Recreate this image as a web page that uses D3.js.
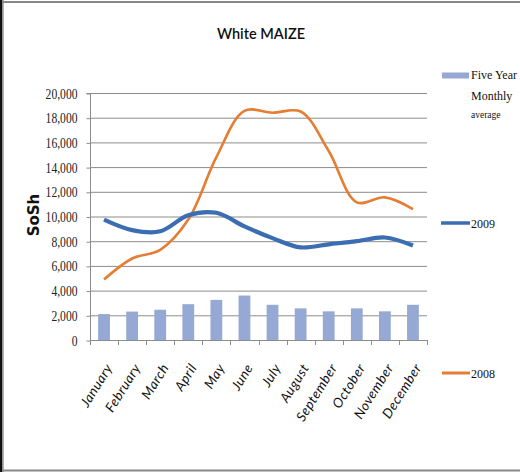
<!DOCTYPE html>
<html><head><meta charset="utf-8">
<script src="https://cdn.jsdelivr.net/npm/d3@7"></script>
<style>html,body{margin:0;padding:0;background:#fff;}svg{display:block;}</style>
</head><body>
<svg id="c" width="520" height="472"></svg>
<script>
const months = ["January","February","March","April","May","June","July","August","September","October","November","December"];
const fiveYearAvg = [2100, 2300, 2450, 2900, 3250, 3600, 2850, 2560, 2320, 2560, 2320, 2850];
const y2009 = [9750, 8900, 8800, 10100, 10300, 9200, 8250, 7500, 7750, 8000, 8300, 7650];
const y2008 = [4900, 6600, 7300, 9750, 14800, 18550, 18400, 18500, 15300, 11150, 11550, 10600];
const yTicks = [0, 2000, 4000, 6000, 8000, 10000, 12000, 14000, 16000, 18000, 20000];

const svg = d3.select("#c");
const L = 90, R = 427, T = 93, B = 340;
const x = d3.scaleBand().domain(months).range([L, R]).paddingInner(0.58).paddingOuter(0.29);
const xc = d3.scalePoint().domain(months).range([L, R]).padding(0.5);
const y = d3.scaleLinear().domain([0, 20000]).range([B, T]);

// frame
svg.append("rect").attr("x",0).attr("y",0).attr("width",2.5).attr("height",472).attr("fill","#111");
svg.append("rect").attr("x",2.5).attr("y",0).attr("width",1.2).attr("height",472).attr("fill","#999");
svg.append("rect").attr("x",2.5).attr("y",1).attr("width",517.5).attr("height",2).attr("fill","#888");
svg.append("rect").attr("x",2.5).attr("y",469.5).attr("width",517.5).attr("height",2).attr("fill","#888");

// title
svg.append("text").attr("x",261).attr("y",39).attr("text-anchor","middle")
  .attr("font-family","Lato, 'Open Sans', sans-serif").attr("font-size",14.5).attr("font-weight",600)
  .attr("fill","#111").text("White MAIZE");

// gridlines
svg.append("g").selectAll("line").data(yTicks.filter(d=>d>0)).join("line")
  .attr("x1",L).attr("x2",R).attr("y1",d=>y(d)+0.5).attr("y2",d=>y(d)+0.5)
  .attr("stroke","#8c8c8c").attr("stroke-width",1);

// bars
svg.append("g").selectAll("rect").data(fiveYearAvg).join("rect")
  .attr("x",(d,i)=>x(months[i])).attr("width",x.bandwidth())
  .attr("y",d=>y(d)).attr("height",d=>B-y(d)).attr("fill","#95a9d4");

// y axis
const sx = 0.8;
const yAxis = d3.axisLeft(y).tickValues(yTicks).tickSize(4).tickPadding(10)
  .tickFormat(d3.format(","));
const gy = svg.append("g").attr("transform",`translate(${L+0.5},0)`).call(yAxis);
gy.select(".domain").attr("stroke","#8c8c8c").attr("d",`M-4,${T+0.5}H0V${B+0.5}`);
gy.selectAll(".tick line").attr("stroke","#8c8c8c").attr("transform","translate(0,0.5)");
gy.selectAll("text").attr("font-family","'Liberation Serif', serif").attr("font-size",14.5)
  .attr("fill","#222").attr("dy","0.35em").attr("transform",`scale(${sx},1)`)
  .attr("x", -13/sx);

// x axis
const boundaries = d3.range(13).map(i=>L + i*(R-L)/12);
svg.append("line").attr("x1",L).attr("x2",R).attr("y1",B+0.5).attr("y2",B+0.5).attr("stroke","#8c8c8c");
svg.append("g").selectAll("line").data(boundaries).join("line")
  .attr("x1",d=>Math.round(d)+0.5).attr("x2",d=>Math.round(d)+0.5).attr("y1",B).attr("y2",B+5)
  .attr("stroke","#8c8c8c");
svg.append("g").selectAll("text").data(months).join("text")
  .attr("transform",d=>`translate(${xc(d)+5},${B+25}) rotate(-58)`)
  .attr("text-anchor","end").attr("dy","0.35em").attr("letter-spacing",0.5)
  .attr("font-family","Lato, 'Open Sans', sans-serif").attr("font-style","italic").attr("font-size",13.5)
  .attr("fill","#111").text(d=>d);

// lines
const line = d3.line().x((d,i)=>xc(months[i])).y(d=>y(d)).curve(d3.curveCatmullRom.alpha(0.5));
svg.append("path").datum(y2008).attr("d",line).attr("fill","none")
  .attr("stroke","#e57d33").attr("stroke-width",2.6);
svg.append("path").datum(y2009).attr("d",line).attr("fill","none")
  .attr("stroke","#3b6db3").attr("stroke-width",4.2);

// y label
svg.append("text").attr("transform","translate(39,215) rotate(-90)").attr("text-anchor","middle")
  .attr("font-family","'DejaVu Sans', sans-serif").attr("font-weight","bold").attr("font-size",15)
  .attr("fill","#111").text("SoSh");

// legend
const lg = svg.append("g").attr("font-family","'Liberation Serif', serif").attr("fill","#111");
lg.append("rect").attr("x",442).attr("y",72.5).attr("width",27).attr("height",6).attr("fill","#95a9d4");
lg.append("text").attr("x",471).attr("y",79).attr("font-size",12).text("Five Year");
lg.append("text").attr("x",471).attr("y",100).attr("font-size",12).text("Monthly");
lg.append("text").attr("x",471).attr("y",118).attr("font-size",9.5).text("average");
lg.append("line").attr("x1",441).attr("x2",470).attr("y1",223).attr("y2",223).attr("stroke","#3b6db3").attr("stroke-width",3.5);
lg.append("text").attr("x",471).attr("y",227.5).attr("font-size",12).text("2009");
lg.append("line").attr("x1",442).attr("x2",470).attr("y1",373).attr("y2",373).attr("stroke","#e57d33").attr("stroke-width",3);
lg.append("text").attr("x",471).attr("y",377.5).attr("font-size",12).text("2008");
</script>
</body></html>
